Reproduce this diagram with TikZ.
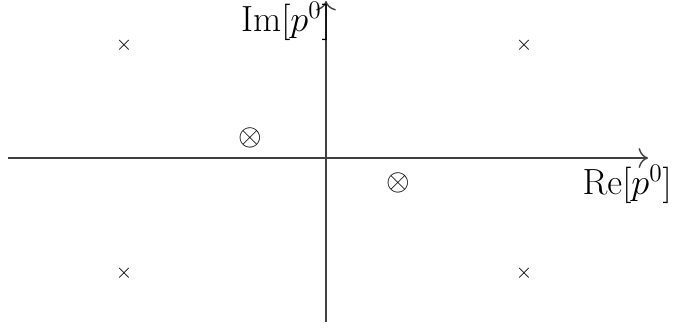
\documentclass[tikz,border=0pt]{standalone}
\usepackage{tikz}
\usetikzlibrary{arrows.meta, positioning}
\tikzset{
  axis/.style={-{To[scale=1.6]}, line width=0.8pt, draw=black!75},
  pole/.style={inner sep=0pt, font=\large},
  zero/.style={inner sep=0pt, font=\LARGE},
  lbl/.style={inner sep=0pt, font=\huge},
}
\begin{document}
\begin{tikzpicture}[x=0.02cm, y=0.02cm]
    \useasboundingbox (-326,-170) rectangle (349,158);
    \coordinate (xl) at (-318,0);
    \coordinate (xr) at (322,0);
    \coordinate (yb) at (0,-164);
    \coordinate (yt) at (0,157);
    \draw[axis] (xl) -- (xr);
    \draw[axis] (yb) -- (yt);
    \node[lbl, anchor=north east] (im) at (5,156) {$\mathrm{Im}[p^0]$};
    \node[lbl, anchor=north east] (re) at (346,-7) {$\mathrm{Re}[p^0]$};
    \node[pole] (p1) at (-202,113) {$\times$};
    \node[pole] (p2) at (198,113) {$\times$};
    \node[pole] (p3) at (-202,-115) {$\times$};
    \node[pole] (p4) at (198,-115) {$\times$};
    \node[zero] (z1) at (-76,20) {$\otimes$};
    \node[zero] (z2) at (72,-25) {$\otimes$};
  \end{tikzpicture}
\end{document}
